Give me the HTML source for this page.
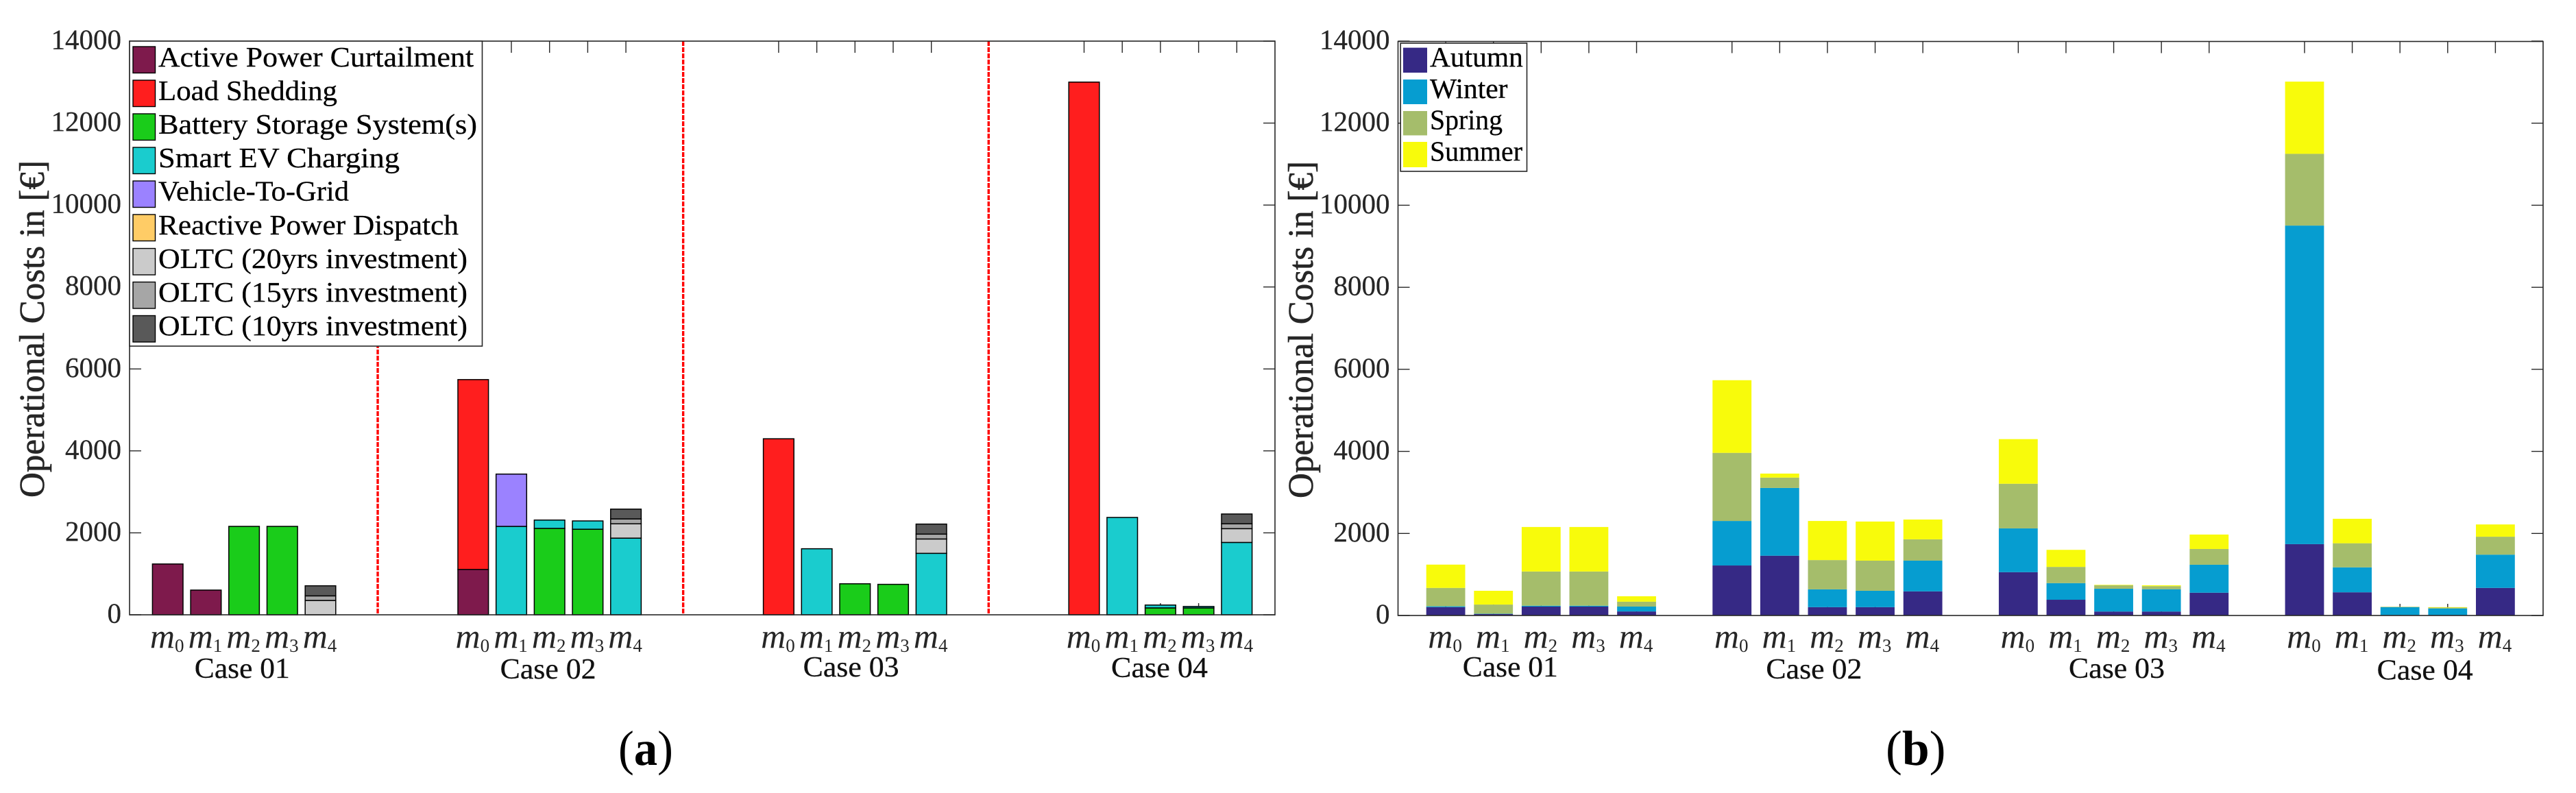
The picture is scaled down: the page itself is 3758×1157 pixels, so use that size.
<!DOCTYPE html>
<html lang="en">
<head>
<meta charset="utf-8">
<title>Operational Costs by Case</title>
<style>
html,body{margin:0;padding:0;background:#fff;width:3758px;height:1157px;overflow:hidden}
svg{display:block}
text{font-family:"Liberation Serif","DejaVu Serif",serif;fill:#000}
.tick{font-size:41px;fill:#262626;text-anchor:end;stroke:#262626;stroke-width:0.3px}
.case{font-size:42px;fill:#111;stroke:#111;stroke-width:0.3px}
.leg{font-size:41px;stroke:#000;stroke-width:0.3px}
.ylab{font-size:52px;fill:#262626;font-weight:normal;stroke:#262626;stroke-width:0.6px}
.mlab{font-size:50px;font-style:italic;fill:#262626;text-anchor:middle}
.sub{font-size:27px;font-style:normal}
.panel{font-size:72px}
</style>
</head>
<body>
<svg xmlns="http://www.w3.org/2000/svg" width="3758" height="1157" viewBox="0 0 3758 1157">
<rect x="0" y="0" width="3758" height="1157" fill="#fff"/>

<g id="chart-a">
  <g id="a-ticks"></g>
  <g id="a-bars"></g>
  <g id="a-separators"></g>
  <rect x="189" y="60" width="1671" height="837" fill="none" stroke="#262626" stroke-width="1.6"/>
  <g id="a-ticklabels"></g>
  <text class="ylab" transform="translate(64,726) rotate(-90)" textLength="492" lengthAdjust="spacingAndGlyphs">Operational Costs in [€]</text>
  <text class="case" x="283.8" y="989" textLength="139" lengthAdjust="spacingAndGlyphs">Case 01</text>
  <text class="case" x="729.6" y="990" textLength="140" lengthAdjust="spacingAndGlyphs">Case 02</text>
  <text class="case" x="1171.6" y="987" textLength="140" lengthAdjust="spacingAndGlyphs">Case 03</text>
  <text class="case" x="1621" y="988" textLength="141" lengthAdjust="spacingAndGlyphs">Case 04</text>

  <g>
    <rect x="189" y="60" width="514.5" height="445" fill="#fff" stroke="#262626" stroke-width="1.6"/>
    <g stroke="#000" stroke-width="1.4">
      <rect x="194" y="68" width="32.5" height="38.5" fill="#7e1a4c"/>
      <rect x="194" y="117" width="32.5" height="38.5" fill="#ff1e1e"/>
      <rect x="194" y="166" width="32.5" height="38.5" fill="#1acc1a"/>
      <rect x="194" y="215" width="32.5" height="38.5" fill="#1accce"/>
      <rect x="194" y="264" width="32.5" height="38.5" fill="#9b82ff"/>
      <rect x="194" y="313" width="32.5" height="38.5" fill="#ffcc66"/>
      <rect x="194" y="362.5" width="32.5" height="38.5" fill="#cbcbcb"/>
      <rect x="194" y="411.5" width="32.5" height="38.5" fill="#a6a6a6"/>
      <rect x="194" y="460.5" width="32.5" height="38.5" fill="#595959"/>
    </g>
    <text class="leg" x="231" y="97" textLength="460" lengthAdjust="spacingAndGlyphs">Active Power Curtailment</text>
    <text class="leg" x="231" y="146" textLength="261" lengthAdjust="spacingAndGlyphs">Load Shedding</text>
    <text class="leg" x="231" y="195" textLength="465" lengthAdjust="spacingAndGlyphs">Battery Storage System(s)</text>
    <text class="leg" x="231" y="244" textLength="352" lengthAdjust="spacingAndGlyphs">Smart EV Charging</text>
    <text class="leg" x="231" y="292.5" textLength="278" lengthAdjust="spacingAndGlyphs">Vehicle-To-Grid</text>
    <text class="leg" x="231" y="342" textLength="438" lengthAdjust="spacingAndGlyphs">Reactive Power Dispatch</text>
    <text class="leg" x="231" y="391" textLength="451" lengthAdjust="spacingAndGlyphs">OLTC (20yrs investment)</text>
    <text class="leg" x="231" y="440" textLength="451" lengthAdjust="spacingAndGlyphs">OLTC (15yrs investment)</text>
    <text class="leg" x="231" y="489" textLength="451" lengthAdjust="spacingAndGlyphs">OLTC (10yrs investment)</text>
  </g>
  <text class="panel" x="902" y="1116" textLength="80" lengthAdjust="spacingAndGlyphs">(<tspan font-weight="bold">a</tspan>)</text>
</g>

<g id="chart-b">
  <g id="b-ticks"></g>
  <g id="b-bars"></g>
  <rect x="2039.5" y="60.5" width="1670.5" height="837.5" fill="none" stroke="#262626" stroke-width="1.6"/>
  <g id="b-ticklabels"></g>
  <text class="ylab" transform="translate(1915,727) rotate(-90)" textLength="492" lengthAdjust="spacingAndGlyphs">Operational Costs in [€]</text>
  <text class="case" x="2133.8" y="987" textLength="139" lengthAdjust="spacingAndGlyphs">Case 01</text>
  <text class="case" x="2576.4" y="990" textLength="140" lengthAdjust="spacingAndGlyphs">Case 02</text>
  <text class="case" x="3018" y="989" textLength="140" lengthAdjust="spacingAndGlyphs">Case 03</text>
  <text class="case" x="3467.7" y="991.5" textLength="140" lengthAdjust="spacingAndGlyphs">Case 04</text>

  <g>
    <rect x="2043.2" y="63" width="184.3" height="187" fill="#fff" stroke="#262626" stroke-width="1.6"/>
    <rect x="2047" y="69.6" width="35" height="36.4" fill="#362985"/>
    <rect x="2047" y="116" width="35" height="36" fill="#069dd0"/>
    <rect x="2047" y="162" width="35" height="35.5" fill="#a5bd6b"/>
    <rect x="2047" y="207" width="35" height="37" fill="#f8fb0b"/>
    <text class="leg" x="2086" y="97" textLength="135.8" lengthAdjust="spacingAndGlyphs">Autumn</text>
    <text class="leg" x="2086" y="143" textLength="113.5" lengthAdjust="spacingAndGlyphs">Winter</text>
    <text class="leg" x="2086" y="188.6" textLength="106" lengthAdjust="spacingAndGlyphs">Spring</text>
    <text class="leg" x="2086" y="234.6" textLength="135" lengthAdjust="spacingAndGlyphs">Summer</text>
  </g>
  <text class="panel" x="2751" y="1116" textLength="87.5" lengthAdjust="spacingAndGlyphs">(<tspan font-weight="bold">b</tspan>)</text>
</g>

<script>
// ---- shared axis data ----
const yTicks = [0, 2000, 4000, 6000, 8000, 10000, 12000, 14000];
const modelSubscripts = ['0', '1', '2', '3', '4'];
const caseCount = 4;

// ---- chart (a): cost increments per measure, case 01 m0..m4, case 02 m0..m4, ... ----
const curtailment  = [1240, 603, 0, 0, 0,   1107, 0, 0, 0, 0,     0, 0, 0, 0, 0,      0, 0, 0, 0, 0];
const loadShedding = [0, 0, 0, 0, 0,        4633, 0, 0, 0, 0,     4296, 0, 0, 0, 0,   13000, 0, 0, 0, 0];
const batteryStore = [0, 0, 2158, 2158, 0,  0, 0, 2109, 2088, 0,  0, 0, 757, 743, 0,  0, 0, 168, 168, 0];
const smartEv      = [0, 0, 0, 0, 0,        0, 2158, 203, 203, 1871, 0, 1612, 0, 0, 1500, 0, 2376, 70, 35, 1766];
const vehicleToGrid= [0, 0, 0, 0, 0,        0, 1276, 0, 0, 0,     0, 0, 0, 0, 0,      0, 0, 0, 0, 0];
const reactiveDisp = [0, 0, 0, 0, 0,        0, 0, 0, 0, 0,        0, 0, 0, 0, 0,      0, 0, 0, 0, 0];
const oltc20       = [0, 0, 0, 0, 350,      0, 0, 0, 0, 350,      0, 0, 0, 0, 350,    0, 0, 0, 0, 336];
const oltc15       = [0, 0, 0, 0, 112,      0, 0, 0, 0, 119,      0, 0, 0, 0, 119,    0, 0, 0, 0, 119];
const oltc10       = [0, 0, 0, 0, 246,      0, 0, 0, 0, 239,      0, 0, 0, 0, 245,    0, 0, 0, 0, 239];
const measureSeries = [curtailment, loadShedding, batteryStore, smartEv, vehicleToGrid, reactiveDisp, oltc20, oltc15, oltc10];
const measureColors = ['#7e1a4c', '#ff1e1e', '#1acc1a', '#1accce', '#9b82ff', '#ffcc66', '#cbcbcb', '#a6a6a6', '#595959'];

// ---- chart (b): cost increments per season ----
const autumn = [203, 35, 217, 217, 98,    1219, 1457, 203, 203, 588,  1056, 384, 96, 96, 555,   1739, 565, 10, 8, 672];
const winter = [21, 7, 21, 21, 119,       1085, 1652, 434, 399, 749,  1067, 405, 555, 544, 682, 7765, 608, 193, 163, 811];
const spring = [448, 224, 834, 834, 119,  1660, 252, 714, 735, 519,   1088, 395, 85, 75, 384,   1749, 587, 10, 21, 437];
const summer = [568, 336, 1085, 1085, 133, 1771, 98, 953, 953, 483,   1088, 416, 11, 21, 352,   1760, 597, 2, 11, 299];
const seasonSeries = [autumn, winter, spring, summer];
const seasonColors = ['#362985', '#069dd0', '#a5bd6b', '#f8fb0b'];

// ---- axis functions ----
const NS = 'http://www.w3.org/2000/svg';
const xA = function (v) { return 189 + v * 1671 / 30; };
const yA = function (v) { return 897 - v * 837 / 14000; };
const xB = function (v) { return 2039.5 + v * 1670.5 / 24; };
const yB = function (v) { return 898 - v * 838 / 14000; };
const slotA = function (i) { return 1 + Math.floor(i / 5) * 8 + i % 5; };
const slotB = function (i) { return 1 + Math.floor(i / 5) * 6 + i % 5; };

function line(parent, x1, y1, x2, y2, stroke, width) {
  const el = document.createElementNS(NS, 'line');
  el.setAttribute('x1', x1);
  el.setAttribute('y1', y1);
  el.setAttribute('x2', x2);
  el.setAttribute('y2', y2);
  el.setAttribute('stroke', stroke);
  el.setAttribute('stroke-width', width);
  parent.appendChild(el);
  return el;
}

function drawTicks(tickGroup, labelGroup, x, y, slot, left, right, top, bottom, labelX, mlabY) {
  yTicks.forEach(function (t) {
    const a = line(tickGroup, left, y(t), left + 17, y(t), '#262626', 1.4);
    
    
    const b = line(tickGroup, right - 17, y(t), right, y(t), '#262626', 1.4);
    
    
    const label = document.createElementNS(NS, 'text');
    label.setAttribute('class', 'tick');
    label.setAttribute('x', labelX);
    label.setAttribute('y', y(t) + 11.5);
    label.textContent = String(t);
    
    
    labelGroup.appendChild(label);
  });
  for (let i = 0; i < caseCount * modelSubscripts.length; i++) {
    const px = x(slot(i));
    const tTop = line(tickGroup, px, top, px, top + 17, '#262626', 1.4);
    
    
    const tBot = line(tickGroup, px, bottom - 17, px, bottom, '#262626', 1.4);
    
    
    const label = document.createElementNS(NS, 'text');
    label.setAttribute('class', 'mlab');
    label.setAttribute('x', px - 1);
    label.setAttribute('y', mlabY);
    label.appendChild(document.createTextNode('m'));
    const sub = document.createElementNS(NS, 'tspan');
    sub.setAttribute('class', 'sub');
    sub.setAttribute('dy', '6');
    sub.textContent = modelSubscripts[i % modelSubscripts.length];
    label.appendChild(sub);
    
    
    labelGroup.appendChild(label);
  }
}

function drawStacks(group, series, colors, x, y, slot, unitWidth, strokeColor, strokeWidth) {
  const n = series[0].length;
  for (let i = 0; i < n; i++) {
    let base = 0;
    series.forEach(function (values, s) {
      const v = values[i];
      if (v <= 0) { return; }
      const rect = document.createElementNS(NS, 'rect');
      rect.setAttribute('x', x(slot(i)) - unitWidth / 2);
      rect.setAttribute('y', y(base + v));
      rect.setAttribute('width', unitWidth);
      rect.setAttribute('height', y(base) - y(base + v));
      rect.setAttribute('fill', colors[s]);
      if (strokeColor) {
        rect.setAttribute('stroke', strokeColor);
        rect.setAttribute('stroke-width', strokeWidth);
      }
      
      
      group.appendChild(rect);
      base += v;
    });
  }
}

const aTicks = document.getElementById('a-ticks');
const aLabels = document.getElementById('a-ticklabels');
const bTicks = document.getElementById('b-ticks');
const bLabels = document.getElementById('b-ticklabels');

drawTicks(aTicks, aLabels, xA, yA, slotA, 189, 1860, 60, 897, 177, 945);
drawTicks(bTicks, bLabels, xB, yB, slotB, 2039.5, 3710, 60.5, 898, 2027.5, 945);

drawStacks(document.getElementById('a-bars'), measureSeries, measureColors, xA, yA, slotA, 44.6, '#000', 1.5);
drawStacks(document.getElementById('b-bars'), seasonSeries, seasonColors, xB, yB, slotB, 56.8, null, 0);

// case separators sit 1.5 slots after the last model of a case
const separatorGroup = document.getElementById('a-separators');
for (let c = 1; c < caseCount; c++) {
  const sepX = xA(slotA(c * 5 - 1) + 1.5);
  const sep = line(separatorGroup, sepX, yA(14000), sepX, yA(0), '#ff0000', 3.4);
  sep.setAttribute('stroke-dasharray', '7 2');
  
  
}
</script>
</svg>
</body>
</html>
